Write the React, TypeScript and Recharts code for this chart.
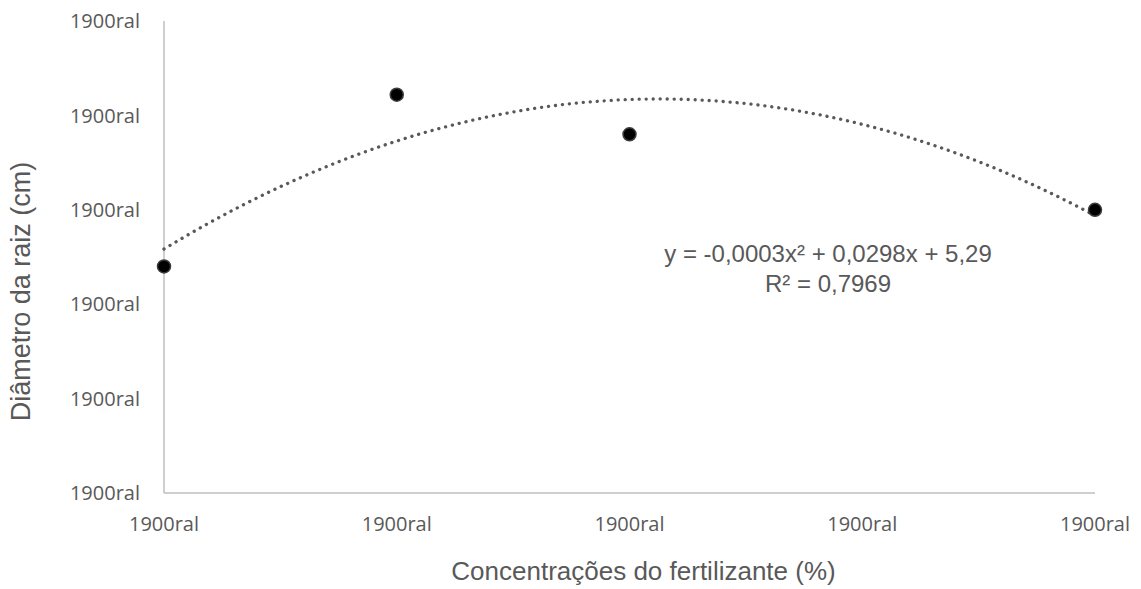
import React from "react";
import { ScatterChart, Scatter, XAxis, YAxis } from "recharts";

// ---- data ----
const concentrations = [0, 25, 50, 100];
const diameters = [5.2, 6.11, 5.9, 5.5];
const xTicks = [0, 25, 50, 75, 100];
const yTicks = [4, 4.5, 5, 5.5, 6, 6.5];
const tickLabel = "1900ral";
const xTitle = "Concentrações do fertilizante (%)";
const yTitle = "Diâmetro da raiz (cm)";
const equationLines = ["y = -0,0003x² + 0,0298x + 5,29", "R² = 0,7969"];

const points = concentrations.map((x, i) => ({ x, y: diameters[i] }));

// least-squares polynomial (order 2) trendline of the data, as the spreadsheet draws it
function quadFit(xs: number[], ys: number[]) {
  let s0 = 0, s1 = 0, s2 = 0, s3 = 0, s4 = 0, t0 = 0, t1 = 0, t2 = 0;
  xs.forEach((x, i) => {
    const y = ys[i];
    s0 += 1; s1 += x; s2 += x * x; s3 += x * x * x; s4 += x * x * x * x;
    t0 += y; t1 += x * y; t2 += x * x * y;
  });
  const det = (m: number[][]) =>
    m[0][0] * (m[1][1] * m[2][2] - m[1][2] * m[2][1]) -
    m[0][1] * (m[1][0] * m[2][2] - m[1][2] * m[2][0]) +
    m[0][2] * (m[1][0] * m[2][1] - m[1][1] * m[2][0]);
  const A = [[s0, s1, s2], [s1, s2, s3], [s2, s3, s4]];
  const B = [t0, t1, t2];
  const D = det(A);
  const col = (k: number) => A.map((row, r) => row.map((v, c) => (c === k ? B[r] : v)));
  return [det(col(0)) / D, det(col(1)) / D, det(col(2)) / D];
}
const [c0, c1, c2] = quadFit(concentrations, diameters);
const trend: { x: number; y: number }[] = [];
for (let x = 0; x <= 100; x += 1) trend.push({ x, y: c0 + c1 * x + c2 * x * x });

const GRAY = "#595959";
const AXIS = "#bfbfbf";

const Marker = (props: any) => (
  <circle cx={props.cx} cy={props.cy} r={6.5} fill="#000" stroke="#3c3c3c" strokeWidth={1.5} />
);

export default function App() {
  return (
    <div style={{ position: "fixed", left: 0, top: 0, width: 1141, height: 589, background: "#fff" }}>
      <ScatterChart width={1141} height={589} margin={{ top: 21, right: 46, bottom: 0, left: 0 }}>
        <XAxis
          type="number"
          dataKey="x"
          domain={[0, 100]}
          ticks={xTicks}
          tickFormatter={() => tickLabel}
          height={96}
          tickLine={false}
          tickSize={0}
          tickMargin={24}
          axisLine={{ stroke: AXIS, strokeWidth: 1.5 }}
          tick={{ fill: GRAY, fontSize: 20, fontFamily: "'Open Sans'" }}
          interval={0}
          label={{
            content: (p: any) => (
              <text
                x={643.5}
                y={580}
                textAnchor="middle"
                fill={GRAY}
                fontSize={26}
                fontFamily="'Liberation Sans', Arial, sans-serif"
              >
                {xTitle}
              </text>
            ),
          }}
        />
        <YAxis
          type="number"
          dataKey="y"
          domain={[4, 6.5]}
          ticks={yTicks}
          tickFormatter={() => tickLabel}
          width={164}
          tickLine={false}
          tickSize={0}
          tickMargin={24}
          axisLine={{ stroke: AXIS, strokeWidth: 1.5 }}
          tick={{ fill: GRAY, fontSize: 20, fontFamily: "'Open Sans'" }}
          interval={0}
          label={{
            content: () => (
              <text
                x={29.5}
                y={291.5}
                transform="rotate(-90 29.5 291.5)"
                textAnchor="middle"
                fill={GRAY}
                fontSize={27}
                fontFamily="'Liberation Sans', Arial, sans-serif"
              >
                {yTitle}
              </text>
            ),
          }}
        />
        <Scatter
          data={trend}
          isAnimationActive={false}
          shape={() => <g />}
          line={{
            stroke: GRAY,
            strokeWidth: 3.3,
            strokeDasharray: "0.1 6.9",
            strokeLinecap: "round",
          }}
          lineType="joint"
        />
        <Scatter data={points} isAnimationActive={false} shape={Marker} />
      </ScatterChart>
      <div
        style={{
          position: "absolute",
          left: 628,
          top: 238.7,
          width: 400,
          textAlign: "center",
          fontFamily: "'Liberation Sans', Arial, sans-serif",
          fontSize: 24,
          lineHeight: "30px",
          color: GRAY,
          whiteSpace: "nowrap",
        }}
      >
        {equationLines.map((l) => (
          <div key={l}>{l}</div>
        ))}
      </div>
    </div>
  );
}
